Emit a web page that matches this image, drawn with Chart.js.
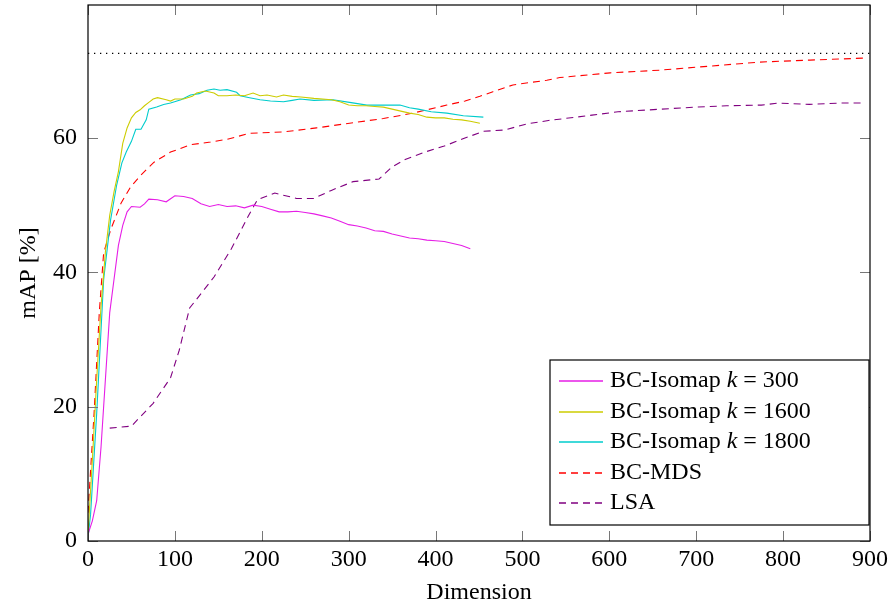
<!DOCTYPE html>
<html>
<head>
<meta charset="utf-8">
<script src="https://cdn.jsdelivr.net/npm/chart.js@4/dist/chart.umd.min.js"></script>
<style>
  body { margin: 0; background: #fff; }
  #c { display: block; }
</style>
</head>
<body>
<canvas id="c" width="893" height="609"></canvas>
<script>
// tick labels
const xTicks = [0, 100, 200, 300, 400, 500, 600, 700, 800, 900]
const yTicks = [0, 20, 40, 60]

// BC-Isomap k = 300
const iso300X = [0, 5, 10, 15, 20, 25, 30, 35, 40, 45, 50, 60, 65, 70, 80, 90, 100, 110, 120, 130, 140, 150, 160, 170, 180, 190, 200, 210, 220, 230, 240, 250, 260, 270, 280, 290, 300, 310, 320, 330, 340, 350, 360, 370, 380, 390, 400, 410, 420, 430, 440]
const iso300Y = [1, 3, 6, 14, 24, 34, 39, 44, 47, 49, 49.8, 49.7, 50.2, 50.9, 50.8, 50.5, 51.4, 51.3, 51, 50.2, 49.8, 50.1, 49.8, 49.9, 49.6, 50, 49.8, 49.4, 49, 49, 49.1, 48.9, 48.7, 48.4, 48.1, 47.6, 47.1, 46.9, 46.6, 46.2, 46.1, 45.7, 45.4, 45.1, 45, 44.8, 44.7, 44.6, 44.3, 44, 43.5]

// BC-Isomap k = 1600
const iso1600X = [0, 5, 10, 15, 20, 25, 30, 35, 40, 45, 50, 55, 60, 65, 70, 75, 80, 90, 95, 100, 110, 120, 125, 135, 145, 150, 160, 170, 180, 190, 198, 206, 217, 225, 235, 245, 260, 280, 290, 300, 310, 320, 330, 340, 350, 360, 370, 380, 390, 400, 410, 420, 430, 440, 451]
const iso1600Y = [1, 12, 24, 35, 43, 48.5, 52, 55, 59.2, 61.5, 63, 63.8, 64.2, 64.8, 65.3, 65.8, 66, 65.7, 65.5, 65.8, 65.8, 66.2, 66.7, 67, 66.7, 66.3, 66.3, 66.4, 66.3, 66.7, 66.3, 66.4, 66.1, 66.4, 66.2, 66.1, 65.9, 65.7, 65.4, 64.9, 64.8, 64.8, 64.7, 64.6, 64.3, 64, 63.7, 63.5, 63.1, 63, 63, 62.8, 62.7, 62.5, 62.2]

// BC-Isomap k = 1800
const iso1800X = [0, 3, 10, 18, 26, 33, 39, 44, 50, 55, 61, 67, 70, 79, 87, 95, 107, 118, 128, 137, 145, 152, 160, 171, 175, 186, 198, 210, 225, 235, 244, 260, 282, 301, 321, 340, 359, 370, 380, 395, 413, 432, 455]
const iso1800Y = [0.5, 4, 19, 38.9, 47.8, 53, 56.3, 57.9, 59.5, 61.3, 61.3, 62.7, 64.3, 64.6, 65, 65.2, 65.7, 66.4, 66.6, 67.1, 67.3, 67.1, 67.2, 66.8, 66.3, 66, 65.7, 65.5, 65.4, 65.6, 65.8, 65.6, 65.7, 65.3, 64.9, 64.9, 64.9, 64.5, 64.3, 63.9, 63.7, 63.3, 63.1]

// BC-MDS
const mdsX = [0, 7, 13, 18, 26, 38, 49, 61, 76, 95, 118, 141, 160, 186, 225, 263, 301, 340, 374, 413, 434, 451, 466, 489, 528, 543, 601, 658, 716, 773, 831, 895]
const mdsY = [4.2, 19, 34, 42.9, 46.3, 50.3, 52.7, 54.5, 56.4, 57.9, 59, 59.4, 59.8, 60.7, 60.9, 61.5, 62.2, 62.9, 63.7, 64.9, 65.5, 66.2, 66.9, 67.9, 68.6, 69, 69.7, 70.1, 70.7, 71.3, 71.6, 71.9]

// LSA
const lsaX = [25, 50, 75, 95, 105, 117, 125, 145, 165, 185, 195, 215, 240, 260, 280, 305, 335, 350, 365, 390, 410, 430, 455, 480, 505, 530, 580, 610, 660, 700, 735, 775, 795, 830, 865, 890]
const lsaY = [16.8, 17.1, 20.5, 24.3, 28.4, 34.7, 36, 39.3, 43.5, 48.5, 50.8, 51.8, 51, 51, 52.2, 53.5, 53.9, 55.7, 56.8, 58, 58.8, 59.8, 61, 61.2, 62.1, 62.6, 63.4, 63.9, 64.3, 64.6, 64.8, 64.9, 65.2, 65, 65.2, 65.2]

// reference level (dotted)
const refX = [0, 900]
const refY = [72.6, 72.6]

const FONT = "'Liberation Serif', 'Times New Roman', serif"
const pts = (xs, ys) => xs.map((x, i) => ({x: x, y: ys[i]}))

const series = [
  {label: 'BC-Isomap', k: '300', xs: iso300X, ys: iso300Y, color: 'rgb(230,30,230)', dash: []},
  {label: 'BC-Isomap', k: '1600', xs: iso1600X, ys: iso1600Y, color: 'rgb(204,204,0)', dash: []},
  {label: 'BC-Isomap', k: '1800', xs: iso1800X, ys: iso1800Y, color: 'rgb(0,204,204)', dash: []},
  {label: 'BC-MDS', xs: mdsX, ys: mdsY, color: 'rgb(255,0,0)', dash: [7, 5]},
  {label: 'LSA', xs: lsaX, ys: lsaY, color: 'rgb(128,0,128)', dash: [7, 5]},
]

const datasets = series.map(s => ({
  data: pts(s.xs, s.ys),
  borderColor: s.color,
  borderWidth: 1.1,
  borderDash: s.dash,
  showLine: true,
  pointRadius: 0,
  tension: 0,
}))
datasets.push({
  data: pts(refX, refY),
  borderColor: '#000',
  borderWidth: 1.3,
  borderDash: [1.3, 4.7],
  showLine: true,
  pointRadius: 0,
})

// frame, inward ticks on all four sides, and the legend box
const framePlugin = {
  id: 'frame',
  afterDraw(chart) {
    const ctx = chart.ctx
    const a = chart.chartArea
    const xs = chart.scales.x, ys = chart.scales.y
    ctx.save()
    ctx.strokeStyle = '#777'
    ctx.lineWidth = 1
    ctx.beginPath()
    xTicks.forEach(v => {
      const px = Math.round(xs.getPixelForValue(v)) + 0.5
      ctx.moveTo(px, a.bottom); ctx.lineTo(px, a.bottom - 10)
      ctx.moveTo(px, a.top); ctx.lineTo(px, a.top + 10)
    })
    yTicks.forEach(v => {
      const py = Math.round(ys.getPixelForValue(v)) + 0.5
      ctx.moveTo(a.left, py); ctx.lineTo(a.left + 10, py)
      ctx.moveTo(a.right, py); ctx.lineTo(a.right - 10, py)
    })
    ctx.stroke()
    ctx.strokeStyle = '#000'
    ctx.lineWidth = 1.2
    ctx.strokeRect(a.left, a.top, a.right - a.left, a.bottom - a.top)

    // legend
    const bx = 550, by = 360, bw = a.right - 1 - bx, bh = 165
    ctx.fillStyle = '#fff'
    ctx.fillRect(bx, by, bw, bh)
    ctx.strokeStyle = '#000'
    ctx.lineWidth = 1.2
    ctx.strokeRect(bx, by, bw, bh)
    ctx.textBaseline = 'middle'
    series.forEach((s, i) => {
      const cy = Math.round(by + 21 + i * 30.5)
      ctx.strokeStyle = s.color
      ctx.lineWidth = 1.5
      ctx.setLineDash(s.dash)
      ctx.beginPath()
      ctx.moveTo(bx + 9, cy); ctx.lineTo(bx + 53, cy)
      ctx.stroke()
      ctx.setLineDash([])
      ctx.fillStyle = '#000'
      let tx = bx + 60
      ctx.font = '24px ' + FONT
      ctx.fillText(s.label, tx, cy)
      if (s.k) {
        tx += ctx.measureText(s.label + ' ').width
        ctx.font = 'italic 24px ' + FONT
        ctx.fillText('k', tx, cy)
        tx += ctx.measureText('k').width
        ctx.font = '24px ' + FONT
        ctx.fillText(' = ' + s.k, tx, cy)
      }
    })
    ctx.restore()
  }
}

new Chart(document.getElementById('c'), {
  type: 'scatter',
  data: {datasets: datasets},
  options: {
    responsive: false,
    animation: false,
    layout: {padding: {top: 5, right: 23, left: 0, bottom: 0}},
    plugins: {legend: {display: false}, tooltip: {enabled: false}},
    font: {family: FONT},
    scales: {
      x: {
        type: 'linear', min: 0, max: 900,
        afterBuildTicks: axis => { axis.ticks = xTicks.map(v => ({value: v})) },
        afterFit: scale => { scale.height = 68; scale.paddingLeft = 0; scale.paddingRight = 0 },
        grid: {display: false, drawTicks: false},
        border: {display: false},
        ticks: {color: '#000', padding: 4, font: {family: FONT, size: 24}},
        title: {display: true, text: 'Dimension', color: '#000', padding: {top: 0, bottom: 2}, font: {family: FONT, size: 24}},
      },
      y: {
        type: 'linear', min: 0, max: 79.8,
        afterBuildTicks: axis => { axis.ticks = yTicks.map(v => ({value: v})) },
        afterFit: scale => { scale.width = 88; scale.paddingTop = 0; scale.paddingBottom = 0 },
        grid: {display: false, drawTicks: false},
        border: {display: false},
        ticks: {color: '#000', padding: 11, font: {family: FONT, size: 24}},
        title: {display: true, text: 'mAP [%]', color: '#000', padding: {top: 14, bottom: 0}, font: {family: FONT, size: 24}},
      },
    },
  },
  plugins: [framePlugin],
})
</script>
</body>
</html>
